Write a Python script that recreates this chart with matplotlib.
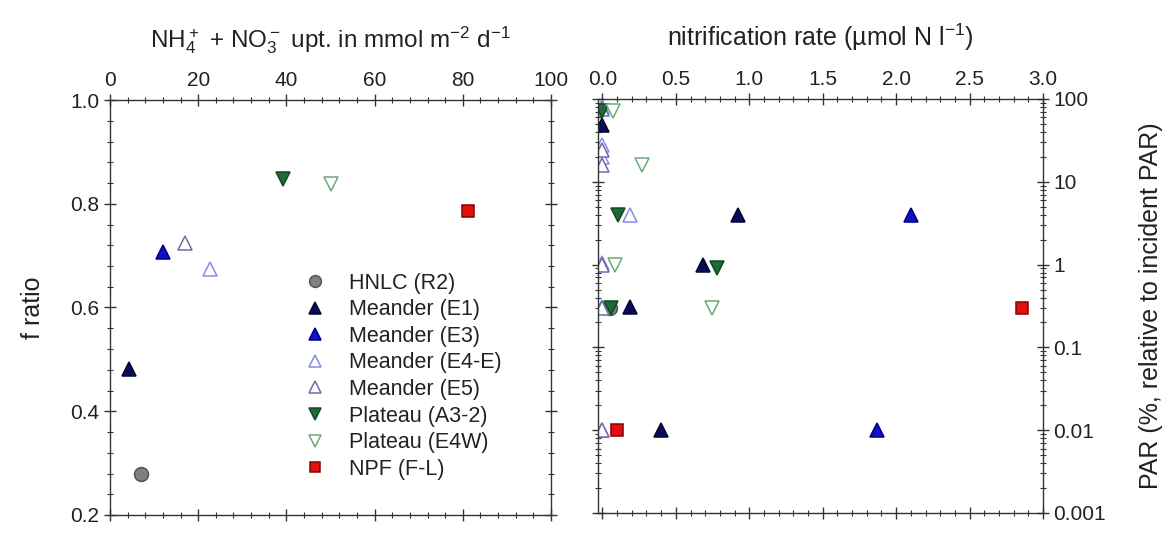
import numpy as np
import matplotlib.pyplot as plt
from matplotlib.ticker import MultipleLocator, LogLocator, FuncFormatter, NullFormatter

plt.rcParams["font.family"] = ["Liberation Sans", "DejaVu Sans"]
plt.rcParams["mathtext.default"] = "regular"

# series: name, marker, face colour, edge colour
names = ["HNLC (R2)", "Meander (E1)", "Meander (E3)", "Meander (E4-E)",
         "Meander (E5)", "Plateau (A3-2)", "Plateau (E4W)", "NPF (F-L)"]
markers = ["o", "^", "^", "^", "^", "v", "v", "s"]
faces = ["#808080", "#0b0b5c", "#1010c8", "white", "white", "#1f6b35", "white", "#e31010"]
edges = ["#555555", "#050530", "#00007a", "#8a8ae6", "#6c6ca8", "#124a22", "#6aaa7a", "#8a0000"]

# left panel: N uptake vs f ratio (one point per station)
upt_x = [7.0, 4.4, 12.0, 22.6, 17.0, 39.2, 50.0, 81.2]
f_ratio = [0.28, 0.481, 0.707, 0.675, 0.724, 0.847, 0.839, 0.786]

# right panel: nitrification rate vs PAR depth
nit_x = {
    "HNLC (R2)": [0.05],
    "Meander (E1)": [0.0, 0.92, 0.685, 0.19, 0.40],
    "Meander (E3)": [2.10, 1.87],
    "Meander (E4-E)": [0.0, 0.0, 0.0, 0.19, 0.0, 0.0, 0.0],
    "Meander (E5)": [0.0, 0.0, 0.0, 0.0, 0.0, 0.0],
    "Plateau (A3-2)": [0.0, 0.105, 0.78, 0.06],
    "Plateau (E4W)": [0.072, 0.268, 0.086, 0.744],
    "NPF (F-L)": [2.86, 0.10],
}
par_y = {
    "HNLC (R2)": [0.3],
    "Meander (E1)": [48, 4.0, 1.0, 0.31, 0.01],
    "Meander (E3)": [4.0, 0.01],
    "Meander (E4-E)": [80, 28, 20, 4.0, 1.05, 0.31, 0.01],
    "Meander (E5)": [75, 24, 16, 1.0, 0.3, 0.01],
    "Plateau (A3-2)": [72, 4.0, 0.9, 0.3],
    "Plateau (E4W)": [72, 16, 1.0, 0.3],
    "NPF (F-L)": [0.3, 0.01],
}

fig = plt.figure(figsize=(11.67, 5.49), dpi=100)
ax1 = fig.add_axes([110 / 1167, 34 / 549, 441 / 1167, 415 / 549])
ax2 = fig.add_axes([598 / 1167, 36 / 549, 445 / 1167, 414 / 549])

tick_col = "#333333"
txt_col = "#222222"
for ax in (ax1, ax2):
    for s in ax.spines.values():
        s.set_color(tick_col)
        s.set_linewidth(1.0)
    ax.tick_params(which="both", direction="inout", colors=tick_col,
                   labelcolor=txt_col, labelsize=15, top=True, bottom=True,
                   left=True, right=True)
    ax.tick_params(which="major", length=8, width=1.0)
    ax.tick_params(which="minor", length=4, width=0.8)

for i, n in enumerate(names):
    ms = 9 if markers[i] == "s" else 10
    ax1.plot(upt_x[i], f_ratio[i], linestyle="none", marker=markers[i], ms=ms,
             mfc=faces[i], mec=edges[i], mew=1.1, label=n)
    ax2.plot(nit_x[n], par_y[n], linestyle="none", marker=markers[i], ms=ms,
             mfc=faces[i], mec=edges[i], mew=1.1)

ax1.set_xlim(0, 100)
ax1.set_ylim(0.2, 1.0)
ax1.xaxis.set_major_locator(MultipleLocator(20))
ax1.xaxis.set_minor_locator(MultipleLocator(4))
ax1.yaxis.set_major_locator(MultipleLocator(0.2))
ax1.yaxis.set_minor_locator(MultipleLocator(0.04))
ax1.yaxis.set_major_formatter(FuncFormatter(lambda v, p: f"{v:.1f}"))
ax1.tick_params(labeltop=True, labelbottom=False)
ax1.xaxis.set_label_position("top")
ax1.set_xlabel(r"NH$_4^+$ + NO$_3^-$ upt. in mmol m$^{-2}$ d$^{-1}$",
               fontsize=17.5, labelpad=17, color=txt_col)
ax1.set_ylabel("f ratio", fontsize=18, labelpad=18, color=txt_col)

leg = ax1.legend(loc="upper left", bbox_to_anchor=(0.42, 0.605), frameon=False,
                 fontsize=15.5, handletextpad=1.1, labelspacing=0.26,
                 markerscale=0.85, handlelength=1.0, borderaxespad=0)
for t in leg.get_texts():
    t.set_color(txt_col)

ax2.set_xlim(-0.03, 3.0)
ax2.set_yscale("log")
ax2.set_ylim(0.001, 100)
ax2.xaxis.set_major_locator(MultipleLocator(0.5))
ax2.xaxis.set_minor_locator(MultipleLocator(0.1))
ax2.xaxis.set_major_formatter(FuncFormatter(lambda v, p: f"{v:.1f}"))
ax2.yaxis.set_major_locator(LogLocator(base=10, numticks=10))
ax2.yaxis.set_minor_locator(LogLocator(base=10, subs=np.arange(2, 10), numticks=10))
ax2.yaxis.set_major_formatter(FuncFormatter(lambda v, p: f"{v:g}"))
ax2.yaxis.set_minor_formatter(NullFormatter())
ax2.tick_params(labeltop=True, labelbottom=False, labelleft=False, labelright=True)
ax2.xaxis.set_label_position("top")
ax2.yaxis.set_label_position("right")
ax2.set_xlabel("nitrification rate (\u00b5mol N l$^{-1}$)", fontsize=18,
               labelpad=17, color=txt_col)
ax2.set_ylabel("PAR (%, relative to incident PAR)", fontsize=18, labelpad=24,
               color=txt_col)

fig.savefig("out.png", dpi=100)
